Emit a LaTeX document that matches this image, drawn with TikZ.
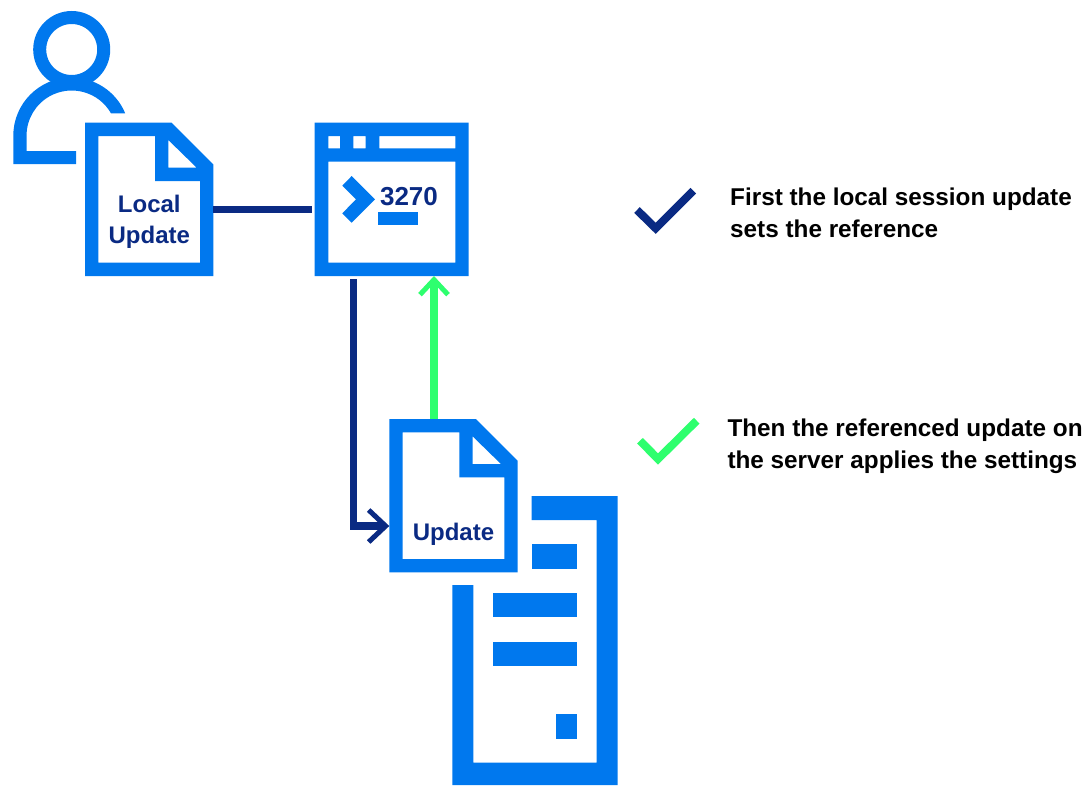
\documentclass[tikz,border=0pt]{standalone}
\usepackage{fontspec}
\setmainfont{Liberation Sans}
\usetikzlibrary{arrows.meta}
\definecolor{iconblue}{HTML}{0078EE}
\definecolor{navyline}{HTML}{0A2A83}
\definecolor{greenline}{HTML}{2EFF6E}
\tikzset{
	iconfill/.style={fill=iconblue, draw=none, even odd rule},
	iconspot/.style={minimum width=#1, inner sep=0pt, outer sep=0pt},
	doclabel/.style={font=\bfseries\fontsize{24}{30.6}\selectfont, text=navyline, align=center, inner sep=0pt},
	notelabel/.style={font=\bfseries\fontsize{24.3}{31.5}\selectfont, text=black, align=left, inner sep=0pt, anchor=base west},
	navyarrow/.style={draw=navyline, line width=7.5pt, -{Straight Barb[length=17pt,width=32pt,line width=5pt]}},
	greenarrow/.style={draw=greenline, line width=7.5pt, -{Straight Barb[length=15pt,width=28pt,line width=5pt]}},
	docicon/.pic={
		\path[iconfill] (0,0)--(86.7,0)--(128.3,41.7)--(128.3,153.3)--(0,153.3)--cycle
			(13.3,13.3)--(70,13.3)--(70,58.3)--(115,58.3)--(115,140)--(13.3,140)--cycle
			(83.3,17.3)--(111.7,45)--(83.3,45)--cycle;
	}
}
\begin{document}
\begin{tikzpicture}[x=1pt,y=-1pt]
	\useasboundingbox (0,0) rectangle (1090,785);
	\node[iconspot=128.3pt, minimum height=153.3pt] (localdoc) at (149.15,199.35) {};
	\node[iconspot=154pt, minimum height=153.3pt] (terminal) at (391.7,199.35) {};
	\node[iconspot=128.3pt, minimum height=153.3pt] (updatedoc) at (453.45,495.7) {};

	\draw[line width=13pt, iconblue] (71.7,49.5) circle (32pt);
	\path[iconfill] (76,164)--(13.3,164)--(13.3,135.7) arc (180:22.6:58.2pt)
		--(111,113.3) arc (29.7:180:45.2pt)--(26.7,151)--(76,151)--cycle;

	\pic at (localdoc.north west) {docicon};
	\pic at (updatedoc.north west) {docicon};

	\path[iconfill] (314.7,122.7) rectangle (468.7,276)
		(328.3,161.7) rectangle (455.3,262.7)
		(328.3,136) rectangle (340,148.3)
		(353.3,136) rectangle (365.7,148.3)
		(379.3,136) rectangle (455.3,148.3);
	\path[iconfill] (342.3,185.7)--(351.7,176)--(375,199.3)--(351.7,222.7)--(342.3,213.3)--(356,199.3)--cycle;
	\path[iconfill] (378.3,212.3) rectangle (417.7,225.3);
	\node[doclabel, font=\bfseries\fontsize{26}{30}\selectfont, anchor=base] (termnum) at (409,205) {3270};

	\path[iconfill] (531.7,496)--(617.7,496)--(617.7,785)--(452.3,785)--(452.3,585)--(473.3,585)
		--(473.3,762.7)--(596.7,762.7)--(596.7,520)--(531.7,520)--cycle;
	\path[iconfill] (531.7,544) rectangle (576.7,569.3);
	\path[iconfill] (493.3,592.7) rectangle (576.7,617.3);
	\path[iconfill] (493.3,641.7) rectangle (576.7,666);
	\path[iconfill] (555.7,714.3) rectangle (576.7,739.3);

	\node[doclabel, anchor=base] (localtext) at (149.3,243.3) {Local\\Update};
	\node[doclabel, anchor=base] (updatetext) at (453.5,540.7) {Update};

	\draw[navyline, line width=7.5pt, shorten >=3pt] ([yshift=-9.9pt]localdoc.east)--([yshift=-9.9pt]terminal.west);
	\draw[navyarrow] ([xshift=-38.4pt,yshift=-3.3pt]terminal.south) |- ([yshift=-30.3pt]updatedoc.west);
	\draw[greenarrow] ([xshift=-19.45pt]updatedoc.north)--([xshift=42.3pt]terminal.south);

	\draw[navyline, line width=8pt] (637,210)--(655.7,228.3)--(693.3,190.7);
	\draw[greenline, line width=8pt] (640,440.7)--(658,459)--(696.7,420.7);
	\node[notelabel] (firstnote) at (730,237.3) {First the local session update\\sets the reference};
	\node[notelabel] (thennote) at (727.3,468) {Then the referenced update on\\the server applies the settings};
\end{tikzpicture}
\end{document}
